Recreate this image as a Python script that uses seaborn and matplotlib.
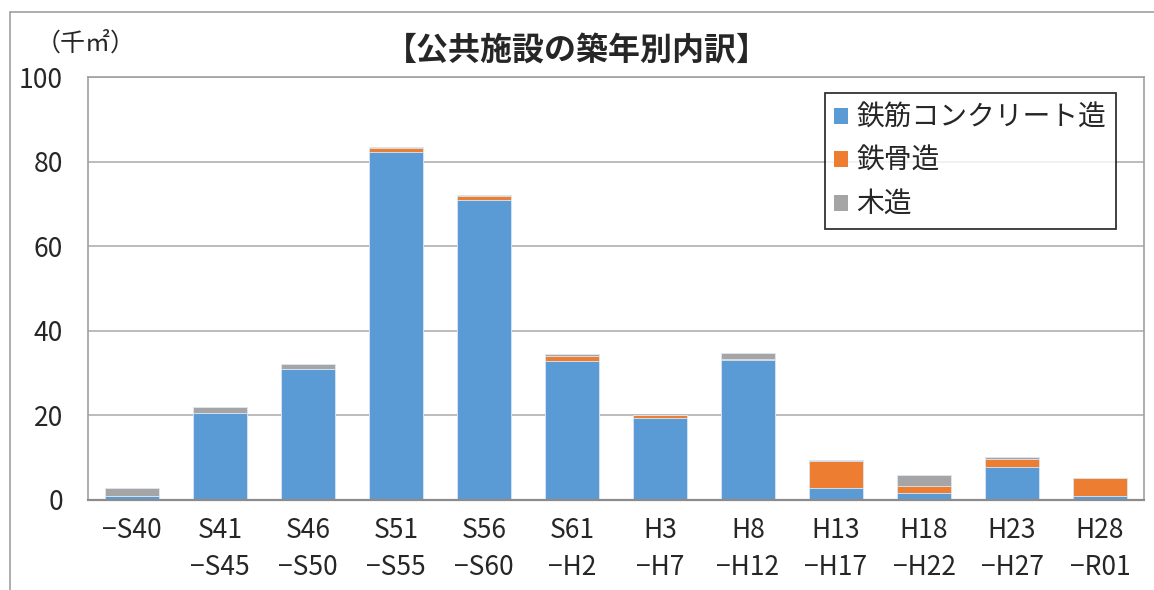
import numpy as np
import pandas as pd
import matplotlib
matplotlib.use("Agg")
import matplotlib.pyplot as plt
import seaborn as sns
from matplotlib.patches import Patch
from matplotlib.lines import Line2D
from matplotlib.ticker import FixedLocator

# 建築年代区分（千㎡）
periods = ["−S40", "S41\n−S45", "S46\n−S50", "S51\n−S55", "S56\n−S60", "S61\n−H2",
           "H3\n−H7", "H8\n−H12", "H13\n−H17", "H18\n−H22", "H23\n−H27", "H28\n−R01"]
rc = [1.0, 20.5, 31.0, 82.2, 70.9, 32.9, 19.3, 33.2, 2.8, 1.6, 7.8, 0.9]
steel = [0.0, 0.0, 0.0, 1.0, 1.0, 1.2, 0.7, 0.2, 6.4, 1.7, 1.9, 4.4]
wood = [1.9, 1.5, 1.2, 0.3, 0.3, 0.5, 0.1, 1.3, 0.3, 2.6, 0.5, 0.0]
series_names = ["鉄筋コンクリート造", "鉄骨造", "木造"]
colors = ["#5B9BD5", "#ED7D31", "#A5A5A5"]

df = pd.DataFrame({"period": periods, "rc": rc, "steel": steel, "wood": wood})
df["rc_steel"] = df["rc"] + df["steel"]
df["total"] = df["rc_steel"] + df["wood"]

sns.set_style("white")
plt.rcParams["font.family"] = ["Noto Sans CJK JP", "DejaVu Sans"]

fig = plt.figure(figsize=(11.54, 5.9), dpi=100)
ax = fig.add_axes([88 / 1154, 90 / 590, 1056 / 1154, 423 / 590])

# 積み上げ：合計→RC+鉄骨→RCの順に重ねる
for col, c in [("total", colors[2]), ("rc_steel", colors[1]), ("rc", colors[0])]:
    sns.barplot(data=df, x="period", y=col, color=c, width=0.62, ax=ax,
                edgecolor="#DDE8F4", linewidth=0.6, saturation=1)

ax.set_xlim(-0.5, len(periods) - 0.5)
ax.set_ylim(0, 100)
ax.set_yticks([0, 20, 40, 60, 80, 100])
ax.yaxis.grid(True, color="#B0B0B0", linewidth=1.2)
ax.set_axisbelow(True)
ax.set_xlabel("")
ax.set_ylabel("")

for s in ["left", "right", "top"]:
    ax.spines[s].set_color("#A0A0A0")
    ax.spines[s].set_linewidth(1.2)
ax.spines["bottom"].set_color("#8C8C8C")
ax.spines["bottom"].set_linewidth(1.6)

ax.tick_params(axis="y", length=0, labelsize=19, pad=18)
ax.tick_params(axis="x", which="major", length=0, labelsize=19, pad=12)
ax.set_xticks(range(len(periods)))
ax.set_xticklabels(periods, linespacing=1.5, va="top")
ax.xaxis.set_minor_locator(FixedLocator(np.arange(0.5, len(periods) - 0.5, 1)))
ax.tick_params(axis="x", which="minor", direction="in", length=7, width=1.5, color="#8C8C8C")

handles = [Patch(facecolor=c, edgecolor="none") for c in colors]
leg = ax.legend(handles, series_names, loc="upper right", bbox_to_anchor=(0.9735, 0.962),
                fontsize=20, frameon=True, fancybox=False, edgecolor="black",
                handlelength=0.5, handleheight=0.5, handletextpad=0.3,
                labelspacing=0.48, borderpad=0.35, borderaxespad=0)
leg.get_frame().set_linewidth(1.3)

fig.text(0.5, 1 - 52 / 590, "【公共施設の築年別内訳】", ha="center", va="center",
         fontsize=23, fontweight="bold")
fig.text(36 / 1154, 1 - 44 / 590, "（千㎡）", ha="left", va="center", fontsize=18)

# 外枠
fig.add_artist(Line2D([9.5 / 1154, 9.5 / 1154], [0, 1 - 12 / 590], transform=fig.transFigure,
                      color="#A0A0A0", linewidth=1.2))
fig.add_artist(Line2D([9.5 / 1154, 1], [1 - 12 / 590, 1 - 12 / 590], transform=fig.transFigure,
                      color="#A0A0A0", linewidth=1.2))

fig.savefig("out.png", dpi=100)
